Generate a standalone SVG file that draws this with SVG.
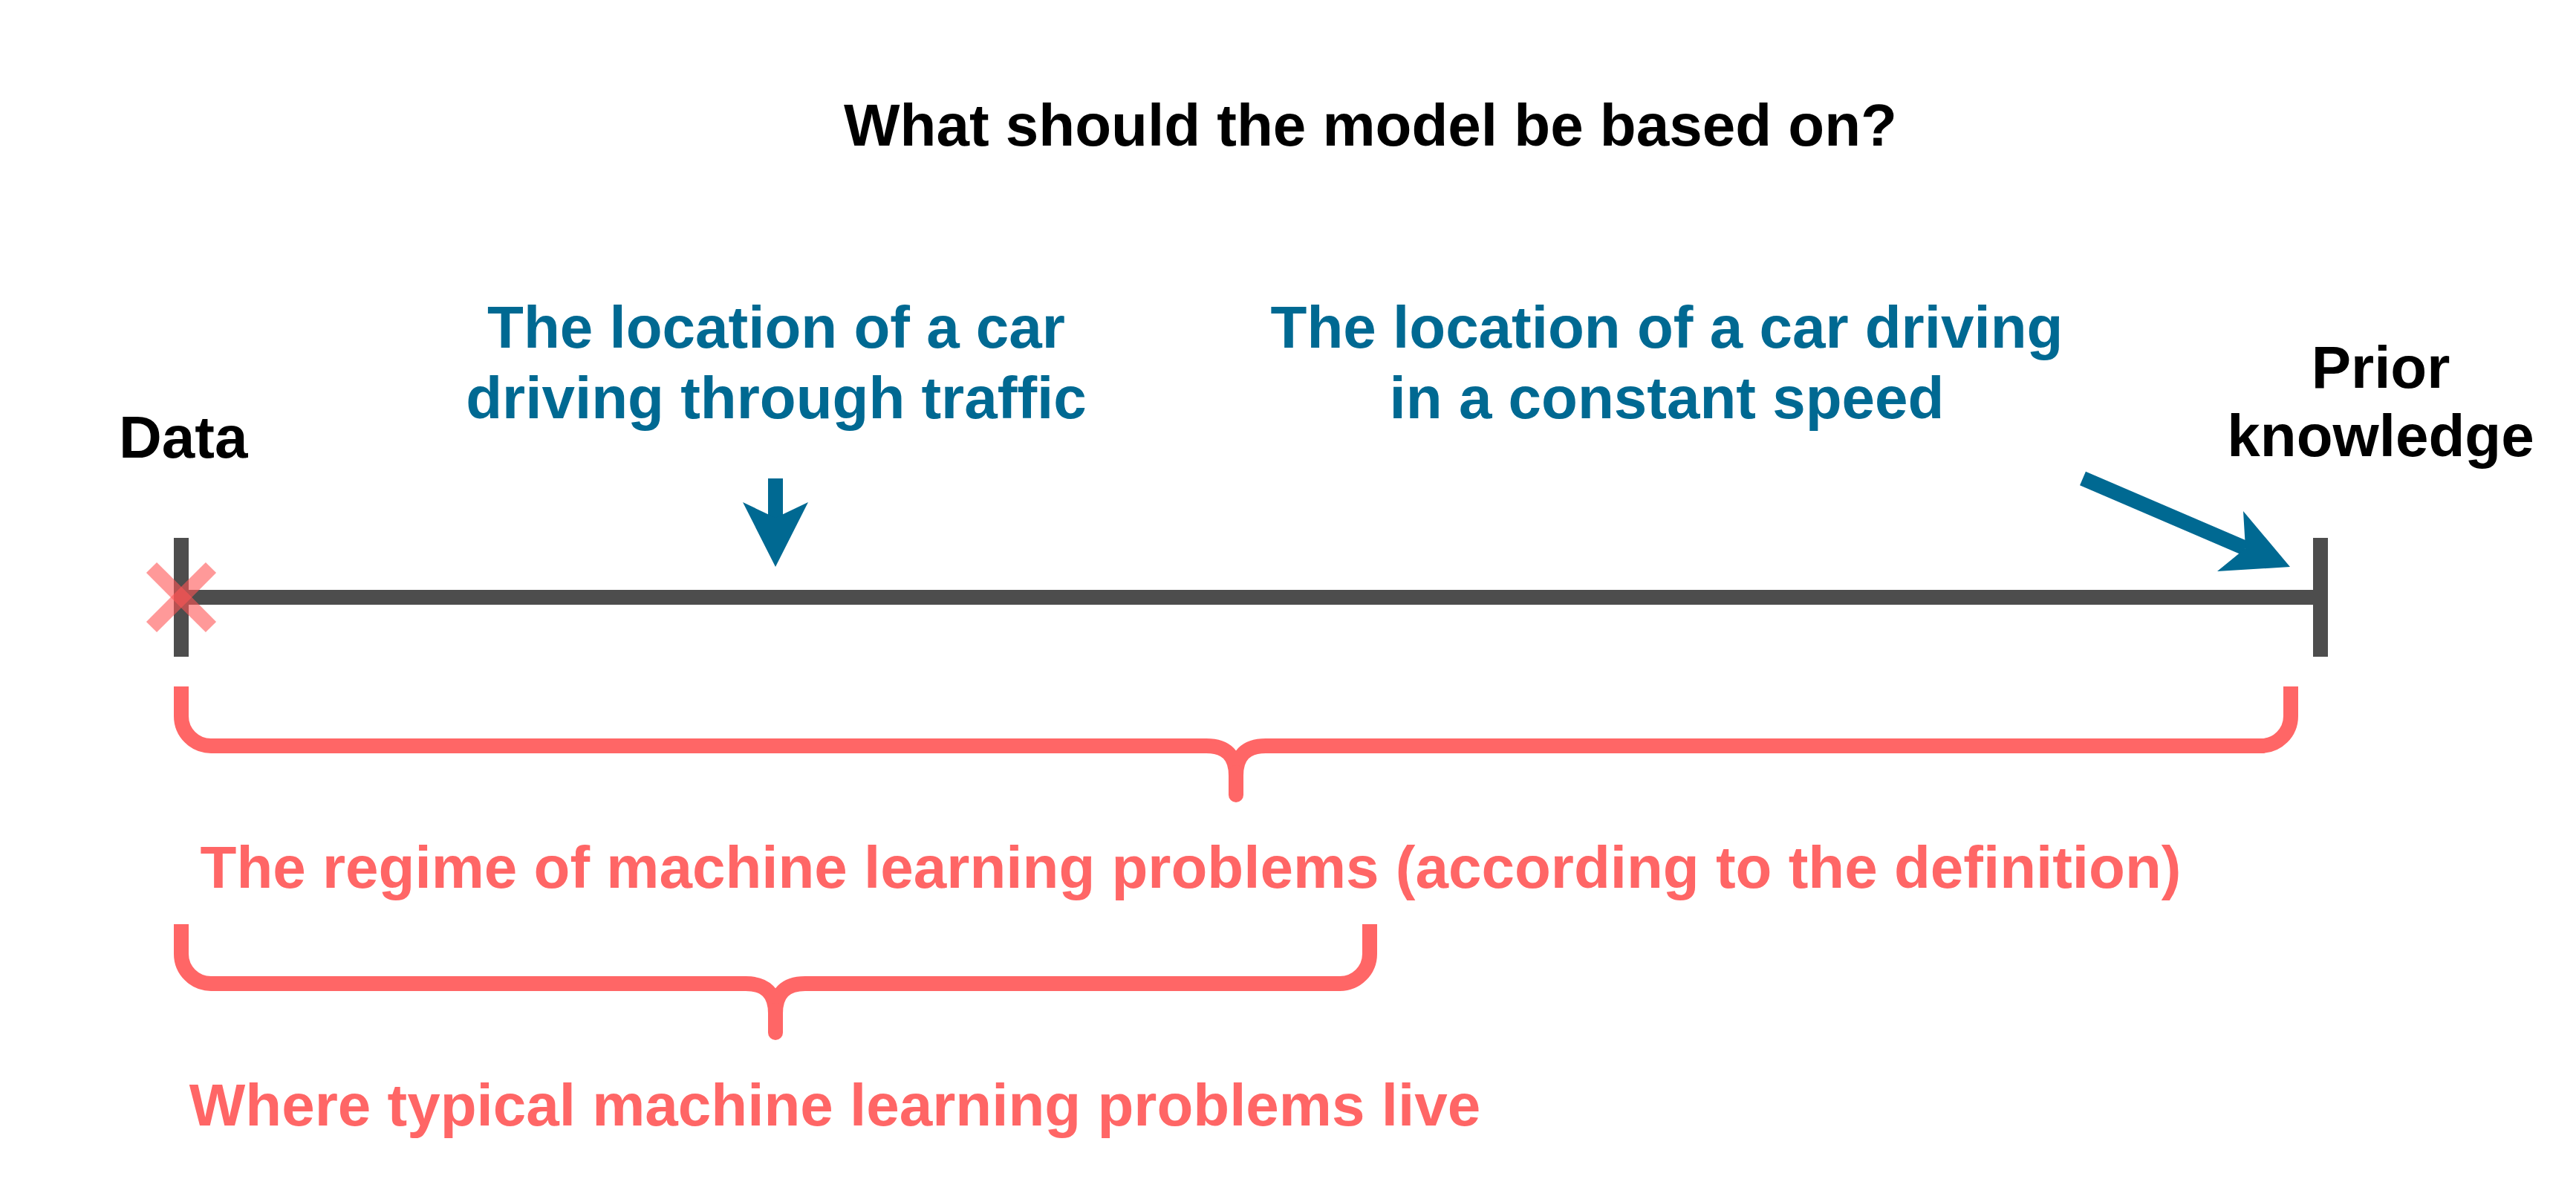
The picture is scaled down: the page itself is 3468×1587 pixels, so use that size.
<svg xmlns="http://www.w3.org/2000/svg" width="3468" height="1587" viewBox="0 0 3468 1587">
<style>
  text { font-family: "Liberation Sans", Arial, sans-serif; font-weight: bold; font-size: 80px; }
  .black { fill: #000000; }
  .blue { fill: #006992; }
  .red { fill: #FF6666; }
  .axis { stroke: #4d4d4d; stroke-width: 20; fill: none; stroke-linecap: butt; }
  .brace { stroke: #FF6666; stroke-width: 20; fill: none; stroke-linecap: butt; stroke-linejoin: round; }
  .stem { stroke: #FF6666; stroke-width: 20; fill: none; stroke-linecap: round; }
  .arrow { stroke: #006992; stroke-width: 20; fill: none; stroke-linecap: butt; }
  .head { fill: #006992; }
  .cross { stroke: #FF5555; stroke-opacity: 0.6; stroke-width: 20; stroke-linecap: butt; }
</style>
<rect width="3468" height="1587" fill="#ffffff"/>

<g id="title">
  <text class="black" x="1845" y="196" text-anchor="middle">What should the model be based on?</text>
</g>

<g id="axis">
  <line class="axis" x1="244" y1="804" x2="3124" y2="804"/>
  <line class="axis" x1="244" y1="724" x2="244" y2="884"/>
  <line class="axis" x1="3124" y1="724" x2="3124" y2="884"/>
</g>

<g id="data-label">
  <text class="black" x="160" y="616">Data</text>
</g>

<g id="prior-label">
  <text class="black" x="3205" y="522" text-anchor="middle">Prior</text>
  <text class="black" x="3205" y="614" text-anchor="middle">knowledge</text>
</g>

<g id="data-cross">
  <line class="cross" x1="204" y1="764" x2="284" y2="844"/>
  <line class="cross" x1="284" y1="764" x2="204" y2="844"/>
</g>

<g id="traffic-label">
  <text class="blue" x="1045" y="468" text-anchor="middle">The location of a car</text>
  <text class="blue" x="1045" y="563" text-anchor="middle">driving through traffic</text>
</g>

<g id="constant-label">
  <text class="blue" x="2244" y="468" text-anchor="middle">The location of a car driving</text>
  <text class="blue" x="2244" y="563" text-anchor="middle">in a constant speed</text>
</g>

<g id="connectors">
  <line class="arrow" x1="1044" y1="644" x2="1044" y2="698"/>
  <polygon class="head" points="1044,763 1000,676 1044,697 1088,676"/>
  <line class="arrow" x1="2804" y1="644" x2="3023" y2="738"/>
  <polygon class="head" points="3083,763 3020,688 3023,738 2985,769"/>
</g>

<g id="regime-brace">
  <path class="brace" d="M244,924 V964 A40,40 0 0 0 284,1004 H1624 Q1664,1004 1664,1044 Q1664,1004 1704,1004 H3044 A40,40 0 0 0 3084,964 V924"/>
  <path class="stem" d="M1664,1040 V1070"/>
  <text class="red" x="1603" y="1195" text-anchor="middle">The regime of machine learning problems (according to the definition)</text>
</g>

<g id="typical-brace">
  <path class="brace" d="M244,1244 V1284 A40,40 0 0 0 284,1324 H1004 Q1044,1324 1044,1364 Q1044,1324 1084,1324 H1804 A40,40 0 0 0 1844,1284 V1244"/>
  <path class="stem" d="M1044,1360 V1390"/>
  <text class="red" x="1124" y="1515" text-anchor="middle">Where typical machine learning problems live</text>
</g>
</svg>
